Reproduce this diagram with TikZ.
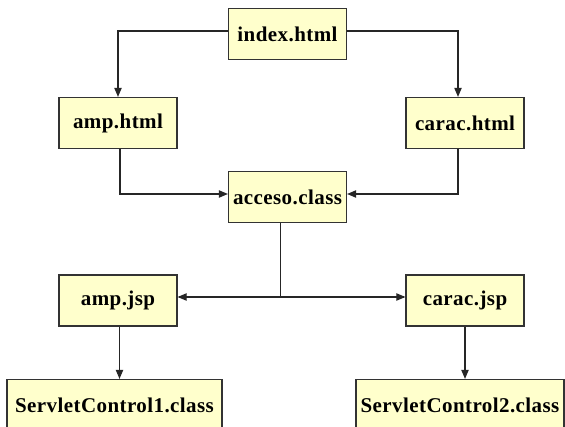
\documentclass[tikz,border=0pt]{standalone}
\usepackage{fontspec}
\setmainfont{Liberation Serif}
\newfontfamily\boxfont[LetterSpace=2]{Liberation Serif}
\usepackage{color}
\usepackage{tikz}
\usetikzlibrary{arrows}

\definecolor{boxfill}{HTML}{FFFFCC}
\definecolor{boxline}{HTML}{333333}

\tikzset{
  page/.style={draw=boxline,fill=boxfill,line width=1.3pt,minimum height=51pt,
    minimum width=118pt,inner sep=0pt,font=\boxfont\fontsize{21}{25}\selectfont\bfseries},
  link/.style={black!85,line width=1.1pt},
}

\begin{document}
\begin{tikzpicture}[x=1pt,y=-1pt]
\useasboundingbox (0,0) rectangle (565,427);
\clip (0,0) rectangle (565,427);
\begin{scope}[>=triangle 45]

    % pages
    \node[page] (index) at (287.5,34) {index.html};
    \node[page] (amp) at (118,123) {amp.html};
    \node[page] (carac) at (465,123) {carac.html};
    \node[page] (acceso) at (287.5,197) {acceso.class};
    \node[page] (ampjsp) at (118,300.5) {amp.jsp};
    \node[page] (caracjsp) at (465,300.5) {carac.jsp};
    \node[page,minimum width=215pt] (servlet1) at (114.5,405) {ServletControl1.class};
    \node[page,minimum width=208pt] (servlet2) at (460,405) {ServletControl2.class};

    % links
    \draw[link,->] ([yshift=3pt]index.west) -| (amp.north);
    \draw[link,->] ([yshift=3pt]index.east) -| ([xshift=-7pt]carac.north);
    \draw[link,->] ([xshift=2pt]amp.south) |- ([yshift=3pt]acceso.west);
    \draw[link,->] ([xshift=-7pt]carac.south) |- ([yshift=3pt]acceso.east);

    \coordinate (split) at (280.5,297);
    \draw[link] ([xshift=-7pt]acceso.south) -- (split);
    \draw[link,->] (split) -- (ampjsp.east |- split);
    \draw[link,->] (split) -- (caracjsp.west |- split);

    \draw[link,->] ([xshift=1.5pt]ampjsp.south) -- ([xshift=1.5pt]ampjsp.south |- servlet1.north);
    \draw[link,->] (caracjsp.south) -- (caracjsp.south |- servlet2.north);

\end{scope}
\end{tikzpicture}
\end{document}
